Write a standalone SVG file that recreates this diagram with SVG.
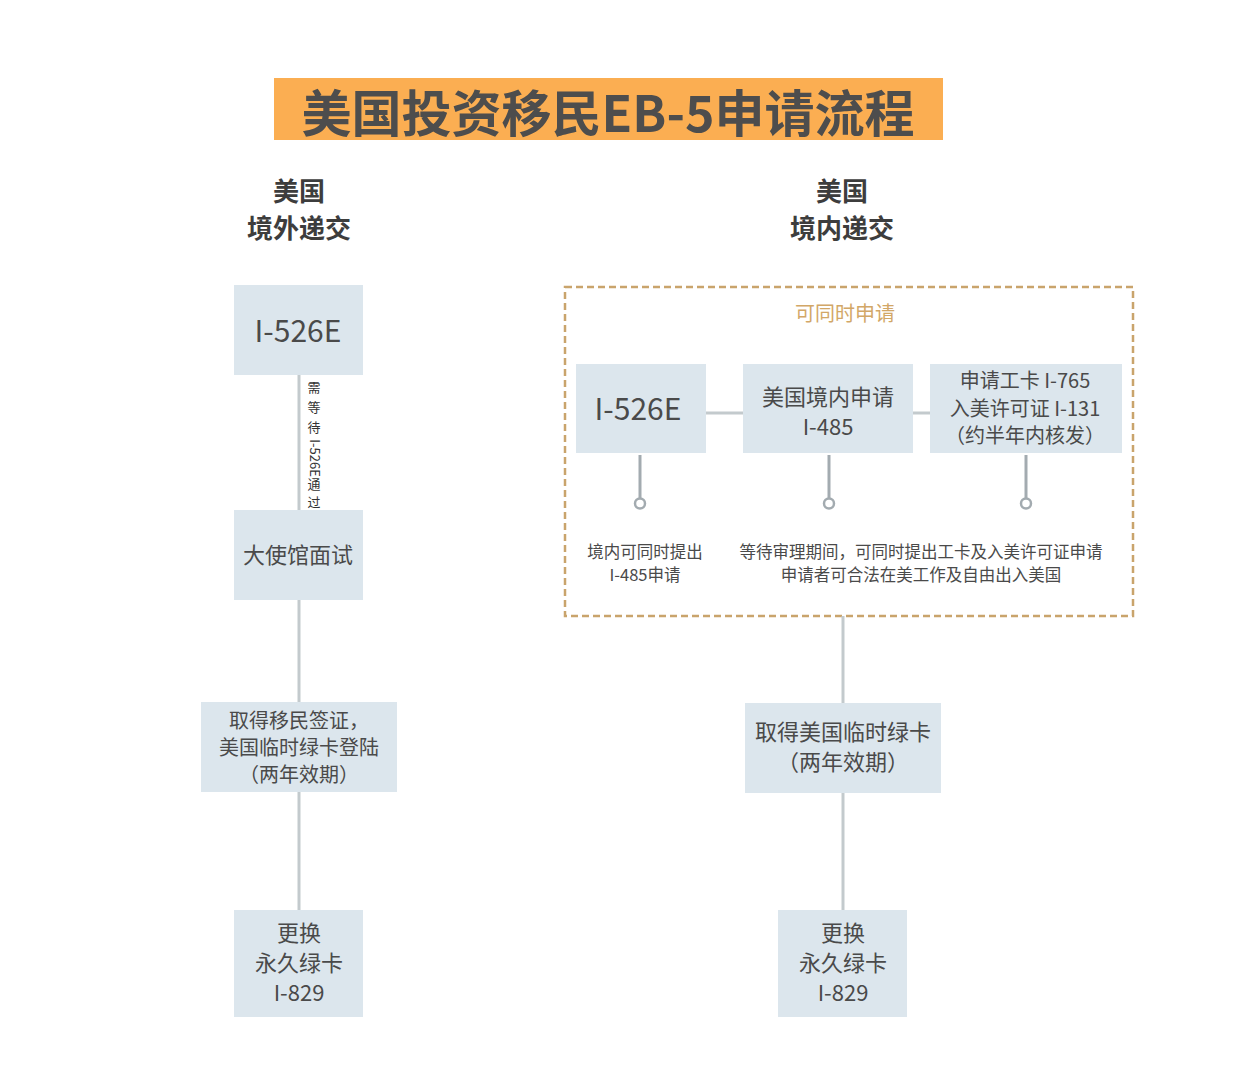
<svg xmlns="http://www.w3.org/2000/svg" width="1236" height="1080" viewBox="0 0 1236 1080">
<style>
text{font-family:"Noto Sans CJK SC","Noto Sans",sans-serif;fill:#4a4a4a;text-anchor:middle}
.box{fill:#dce6ed}
.ln{stroke:#c3cacd;stroke-width:3;fill:none}
.pl{stroke:#a3abb0;stroke-width:3;fill:none}
.pin{fill:#fff;stroke:#a3abb0;stroke-width:2.5}
.hd{font-size:26px;font-weight:bold;fill:#3d3d3d}
.big{font-size:30px}
.note{font-size:16.5px}
.vt{font-size:13px;fill:#333}
</style>
<rect width="1236" height="1080" fill="#fff"/>
<g id="title">
<rect x="274" y="78" width="669" height="62" fill="#fbae52"/>
<text x="608" y="132" style="font-size:50px;font-weight:bold;fill:#4d4d4d">美国投资移民EB-5申请流程</text>
</g>
<g id="header-left"><text class="hd" x="299" y="201">美国</text><text class="hd" x="299" y="238">境外递交</text></g>
<g id="header-right"><text class="hd" x="842" y="201">美国</text><text class="hd" x="842" y="238">境内递交</text></g>
<g id="r-group"><rect x="565" y="287" width="568" height="329" fill="#fff" stroke="#c9a46c" stroke-width="2.5" stroke-dasharray="7,4"/>
<text x="845" y="321" style="font-size:20px;fill:#d2a767">可同时申请</text></g>
<g id="connectors">
<line class="ln" x1="299" y1="375" x2="299" y2="510"/>
<line class="ln" x1="299" y1="600" x2="299" y2="702"/>
<line class="ln" x1="299" y1="792" x2="299" y2="910"/>
<line class="ln" x1="843" y1="616" x2="843" y2="703"/>
<line class="ln" x1="843" y1="793" x2="843" y2="910"/>
<line class="ln" x1="706" y1="413" x2="743" y2="413"/>
<line class="ln" x1="913" y1="413" x2="930" y2="413"/>
<line class="pl" x1="640" y1="455" x2="640" y2="498"/>
<line class="pl" x1="829" y1="455" x2="829" y2="498"/>
<line class="pl" x1="1026" y1="455" x2="1026" y2="498"/>
<circle class="pin" cx="640" cy="503.5" r="5"/>
<circle class="pin" cx="829" cy="503.5" r="5"/>
<circle class="pin" cx="1026" cy="503.5" r="5"/>
<g id="wait-label">
<text class="vt" x="314" y="392">需</text>
<text class="vt" x="314" y="412">等</text>
<text class="vt" x="314" y="432">待</text>
<text class="vt" transform="translate(309.5,458) rotate(90)">I-526E</text>
<text class="vt" x="314" y="489">通</text>
<text class="vt" x="314" y="507">过</text>
</g>
</g>
<g id="l-i526e"><rect class="box" x="234" y="285" width="129" height="90"/><text class="big" x="298" y="342">I-526E</text></g>
<g id="l-interview"><rect class="box" x="234" y="510" width="129" height="90"/><text x="298" y="563" style="font-size:22px">大使馆面试</text></g>
<g id="l-visa"><rect class="box" x="201" y="702" width="196" height="90"/>
<text x="299" y="728" style="font-size:20px">取得移民签证，</text>
<text x="299" y="755" style="font-size:20px">美国临时绿卡登陆</text>
<text x="299" y="782" style="font-size:20px">（两年效期）</text></g>
<g id="l-i829"><rect class="box" x="234" y="910" width="129" height="107"/>
<text x="299" y="941" style="font-size:22px">更换</text>
<text x="299" y="971" style="font-size:22px">永久绿卡</text>
<text x="299" y="1001" style="font-size:22px">I-829</text></g>
<g id="r-i526e"><rect class="box" x="576" y="364" width="130" height="89"/><text class="big" x="638" y="420">I-526E</text></g>
<g id="r-i485"><rect class="box" x="743" y="364" width="170" height="89"/>
<text x="828" y="405" style="font-size:22px">美国境内申请</text>
<text x="828" y="435" style="font-size:22px">I-485</text></g>
<g id="r-i765"><rect class="box" x="930" y="364" width="192" height="89"/>
<text x="1025" y="388" style="font-size:20px">申请工卡 I-765</text>
<text x="1025" y="416" style="font-size:20px">入美许可证 I-131</text>
<text x="1025" y="443" style="font-size:20px">（约半年内核发）</text></g>
<g id="r-notes">
<text class="note" x="645" y="558">境内可同时提出</text>
<text class="note" x="645" y="581">I-485申请</text>
<text class="note" x="921" y="558">等待审理期间，可同时提出工卡及入美许可证申请</text>
<text class="note" x="921" y="581">申请者可合法在美工作及自由出入美国</text>
</g>
<g id="r-greencard"><rect class="box" x="745" y="703" width="196" height="90"/>
<text x="843" y="740" style="font-size:22px">取得美国临时绿卡</text>
<text x="843" y="770" style="font-size:22px">（两年效期）</text></g>
<g id="r-i829"><rect class="box" x="778" y="910" width="129" height="107"/>
<text x="843" y="941" style="font-size:22px">更换</text>
<text x="843" y="971" style="font-size:22px">永久绿卡</text>
<text x="843" y="1001" style="font-size:22px">I-829</text></g>
</svg>
